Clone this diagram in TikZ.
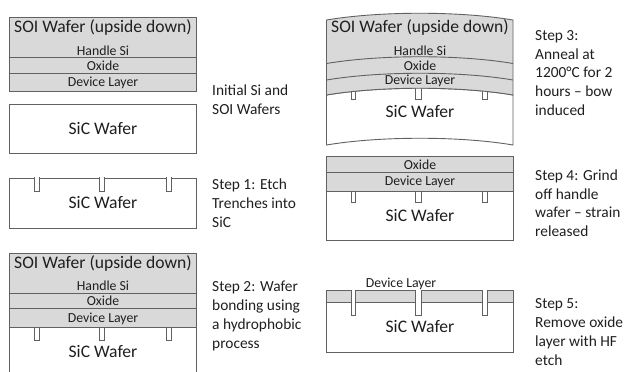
\documentclass[tikz,border=0pt]{standalone}
\usepackage{fontspec}
\setmainfont{Carlito}
\begin{document}
\begin{tikzpicture}[
        x=1pt, y=-1pt,
        sheet/.style={draw=black!62, line width=0.9pt},
        layer/.style={sheet, fill=black!15},
        wafer/.style={sheet, fill=white},
        trench/.style={draw=black!62, line width=0.8pt, fill=white},
        big/.style={anchor=base, inner sep=0pt, text=black!88, font=\fontsize{17.6}{20}\selectfont},
        small/.style={anchor=base, inner sep=0pt, text=black!88, font=\fontsize{13.8}{16}\selectfont},
        caption/.style={anchor=north west, inner sep=0pt, align=left, text=black!88, font=\fontsize{15.4}{18.8}\selectfont}
      ]
      \useasboundingbox (0,0) rectangle (627,372);
      % initial wafers
      \draw[layer] (9.5,17.5) rectangle (196,91);
      \draw[sheet] (9.5,57.5) -- (196,57.5);
      \draw[sheet] (9.5,73) -- (196,73);
      \node[big] (soi0) at (103,32) {SOI Wafer (upside down)};
      \node[small] (handle0) at (103,55) {Handle Si};
      \node[small] (oxide0) at (103,70) {Oxide};
      \node[small] (device0) at (103,86.7) {Device Layer};
      \draw[wafer] (9.5,104) rectangle (196,153.5);
      \node[big] (sic0) at (103,134) {SiC Wafer};
      \node[caption] (cap0) at (212,84.5) {Initial Si and\\SOI Wafers};
      % step 1
      \draw[wafer] (9.5,178) rectangle (196,228.5);
      \foreach \xa/\xb in {34.5/39.5, 99.5/104, 166/171}
        \draw[trench] (\xa,177) -- (\xa,191) -- (\xb,191) -- (\xb,177);
      \node[big] (sic1) at (103,208.3) {SiC Wafer};
      \node[caption] (cap1) at (212,178.8) {Step 1: Etch\\Trenches into\\SiC};
      % step 2
      \draw[sheet] (9.5,327.3) -- (9.5,372);
      \draw[sheet] (196,327.3) -- (196,372);
      \foreach \xa/\xb in {34.5/39.5, 99.5/104, 166/171}
        \draw[trench] (\xa,327) -- (\xa,340) -- (\xb,340) -- (\xb,327);
      \draw[layer] (9.5,253.3) rectangle (196,327.3);
      \draw[sheet] (9.5,293.3) -- (196,293.3);
      \draw[sheet] (9.5,308.7) -- (196,308.7);
      \node[big] (soi2) at (103,268.3) {SOI Wafer (upside down)};
      \node[small] (handle2) at (103,290.7) {Handle Si};
      \node[small] (oxide2) at (103,305.7) {Oxide};
      \node[small] (device2) at (103,322.7) {Device Layer};
      \node[big] (sic2) at (103,357.3) {SiC Wafer};
      \node[caption] (cap2) at (212,281.2) {Step 2: Wafer\\bonding using\\a hydrophobic\\process};
      % step 3
      \draw[wafer] (326.5,95) .. controls (380,86) and (460,86) .. (513,95) -- (513,145)
        .. controls (460,136) and (380,136) .. (326.5,145) -- cycle;
      \foreach \xa/\xb in {351/355.5, 415.7/421, 482.7/487}
        \draw[trench] (\xa,88) -- (\xa,99) -- (\xb,99) -- (\xb,88);
      \draw[layer] (326.5,20) .. controls (380,11) and (460,11) .. (513,20) -- (513,95)
        .. controls (460,86) and (380,86) .. (326.5,95) -- cycle;
      \draw[sheet] (326.5,63.5) .. controls (380,54.5) and (460,54.5) .. (513,63.5);
      \draw[sheet] (326.5,80) .. controls (380,71) and (460,71) .. (513,80);
      \node[big] (soi3) at (420,32.7) {SOI Wafer (upside down)};
      \node[small] (handle3) at (420,55) {Handle Si};
      \node[small] (oxide3) at (420,70) {Oxide};
      \node[small] (device3) at (420,84) {Device Layer};
      \node[big] (sic3) at (420,117.3) {SiC Wafer};
      \node[caption] (cap3) at (535,30.2) {Step 3:\\Anneal at\\1200°C for 2\\hours -- bow\\induced};
      % step 4
      \draw[wafer] (326.5,191) rectangle (513,240);
      \foreach \xa/\xb in {351/355.5, 415.7/421, 482.7/487}
        \draw[trench] (\xa,191) -- (\xa,202.7) -- (\xb,202.7) -- (\xb,191);
      \draw[layer] (326.5,156.5) rectangle (513,191);
      \draw[sheet] (326.5,172.7) -- (513,172.7);
      \node[small] (oxide4) at (420,169) {Oxide};
      \node[small] (device4) at (420,185.7) {Device Layer};
      \node[big] (sic4) at (420,221.7) {SiC Wafer};
      \node[caption] (cap4) at (535,169.5) {Step 4: Grind\\off handle\\wafer -- strain\\released};
      % step 5
      \draw[layer] (326.5,290.3) rectangle (513,302.7);
      \draw[wafer] (326.5,302.7) rectangle (513,352);
      \foreach \xa/\xb in {351/355.5, 415.7/421, 482.7/487}
        \draw[trench] (\xa,289.5) -- (\xa,315) -- (\xb,315) -- (\xb,289.5);
      \node[small] (device5) at (401,287.3) {Device Layer};
      \node[big] (sic5) at (420,332.3) {SiC Wafer};
      \node[caption] (cap5) at (535,298.8) {Step 5:\\Remove oxide\\layer with HF\\etch};
    \end{tikzpicture}
\end{document}
